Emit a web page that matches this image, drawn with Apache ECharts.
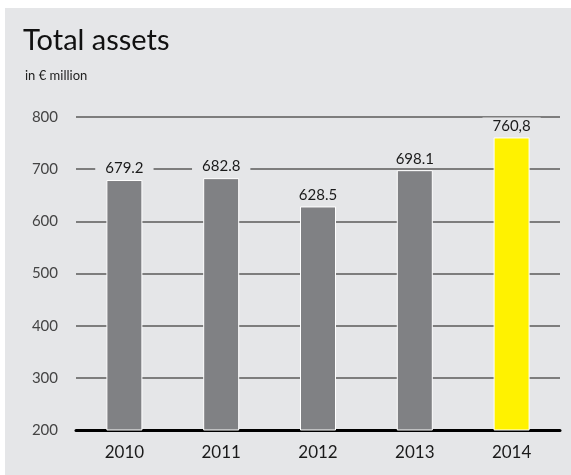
<!DOCTYPE html>
<html>
<head>
<meta charset="utf-8">
<script src="https://cdn.jsdelivr.net/npm/echarts@6/dist/echarts.min.js"></script>
<style>
  html, body { margin: 0; padding: 0; background: #ffffff; }
  #chart { width: 571px; height: 475px; }
</style>
</head>
<body>
<div id="chart"></div>
<script>
// Total assets by year, in € million
const years = ['2010', '2011', '2012', '2013', '2014'];
const totalAssets = [679.2, 682.8, 628.5, 698.1, 760.8];
const valueLabels = ['679.2', '682.8', '628.5', '698.1', '760,8'];
const barColors = ['#808184', '#808184', '#808184', '#808184', '#fff200'];
const yTicks = { min: 200, max: 800, step: 100 };

const panel = '#e5e6e8';
const font = 'Lato, "Open Sans", sans-serif';

const chart = echarts.init(document.getElementById('chart'), null, { renderer: 'canvas' });

chart.setOption({
  backgroundColor: '#ffffff',
  animation: false,
  graphic: [{
    type: 'rect',
    z: -10,
    shape: { x: 5, y: 8, width: 566, height: 467 },
    style: { fill: panel }
  }],
  title: [{
    text: 'Total assets',
    left: 18,
    top: 21,
    textStyle: { fontFamily: font, fontSize: 29, fontWeight: 'normal', color: '#111' }
  }, {
    text: 'in € million',
    left: 20,
    top: 64,
    textStyle: { fontFamily: font, fontSize: 13, fontWeight: 'normal', color: '#222' }
  }],
  grid: { left: 76, right: 11, top: 117, bottom: 45, containLabel: false },
  xAxis: {
    type: 'category',
    data: years,
    axisLine: { show: true, lineStyle: { color: '#000', width: 3 } },
    axisTick: { show: false },
    axisLabel: { fontFamily: font, fontSize: 17, color: '#1a1a1a', margin: 14 }
  },
  yAxis: {
    type: 'value',
    min: yTicks.min,
    max: yTicks.max,
    interval: yTicks.step,
    axisLine: { show: false },
    axisTick: { show: false },
    axisLabel: { fontFamily: font, fontSize: 15, color: '#444', margin: 18 },
    splitLine: { show: true, lineStyle: { color: '#5a5a5a', width: 1.5 } }
  },
  series: [{
    type: 'bar',
    barWidth: 36,
    data: totalAssets.map((v, i) => ({
      value: v,
      itemStyle: { color: barColors[i], borderColor: '#ffffff', borderWidth: 1 }
    })),
    label: {
      show: true,
      position: 'top',
      distance: 3,
      fontFamily: font,
      fontSize: 15,
      color: '#1a1a1a',
      backgroundColor: panel,
      padding: [1, 10],
      formatter: p => valueLabels[p.dataIndex]
    }
  }]
});
</script>
</body>
</html>
